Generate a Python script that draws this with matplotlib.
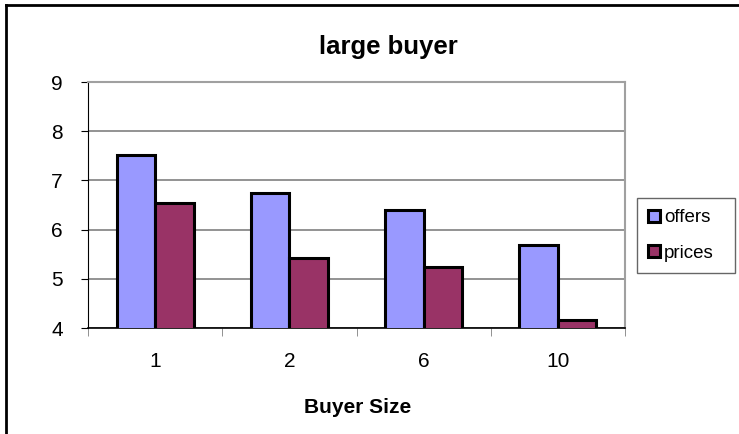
import matplotlib
matplotlib.use("Agg")
import matplotlib.pyplot as plt
import numpy as np
from matplotlib.lines import Line2D

plt.rcParams['font.family'] = ['Liberation Sans', 'DejaVu Sans']

categories = ['1', '2', '6', '10']
offers = [7.52, 6.75, 6.40, 5.68]
prices = [6.55, 5.42, 5.23, 4.16]
yticks = [4, 5, 6, 7, 8, 9]

W, H = 739, 434
fig = plt.figure(figsize=(W / 100, H / 100), dpi=100)
ax = fig.add_axes([88 / W, 1 - 328 / H, (625 - 88) / W, (328 - 82) / H])

x = np.arange(len(categories))
w = 0.287
ax.bar(x - w / 2, offers, w, color='#9999FF', edgecolor='black', linewidth=2.2, label='offers', zorder=3)
ax.bar(x + w / 2, prices, w, color='#993366', edgecolor='black', linewidth=2.2, label='prices', zorder=3)

ax.set_ylim(4, 9)
ax.set_xlim(-0.5, len(categories) - 0.5)
ax.set_yticks(yticks)
ax.set_xticks(x)
ax.set_xticklabels(categories)
ax.set_xticks(np.arange(len(categories) + 1) - 0.5, minor=True)
ax.tick_params(axis='x', which='major', length=0, pad=17, labelsize=15)
ax.tick_params(axis='x', which='minor', length=6, color='#808080')
ax.tick_params(axis='y', length=5, labelsize=15, pad=13)
ax.yaxis.grid(True, color='#808080', linewidth=1.2, zorder=0)

for s in ['top', 'right']:
    ax.spines[s].set_color('#A0A0A0')
    ax.spines[s].set_linewidth(1.5)
ax.spines['left'].set_color('black')
ax.spines['bottom'].set_color('black')
ax.spines['bottom'].set_linewidth(1.2)

fig.text(388 / W, 1 - 54 / H, 'large buyer', fontsize=18.5, fontweight='bold',
         ha='center', va='baseline')
fig.text(358 / W, 1 - 413 / H, 'Buyer Size', fontsize=15, fontweight='bold',
         ha='center', va='baseline')

leg = fig.legend(loc='upper left', bbox_to_anchor=(637 / W, 1 - 273 / H, 98 / W, 75 / H),
                 mode='expand', borderaxespad=0,
                 fontsize=13.5, frameon=True, fancybox=False, edgecolor='#404040',
                 handlelength=0.6, handleheight=0.6, handletextpad=0.25,
                 labelspacing=1.0, borderpad=0.6)
leg.get_frame().set_linewidth(1.0)

# chart frame (only top and left edges are visible in the source image)
fig.add_artist(Line2D([6 / W, 6 / W], [0, 1 - 5 / H], transform=fig.transFigure, color='black', linewidth=2))
fig.add_artist(Line2D([6 / W, 1], [1 - 5 / H, 1 - 5 / H], transform=fig.transFigure, color='black', linewidth=2))

fig.savefig('out.png', dpi=100)
